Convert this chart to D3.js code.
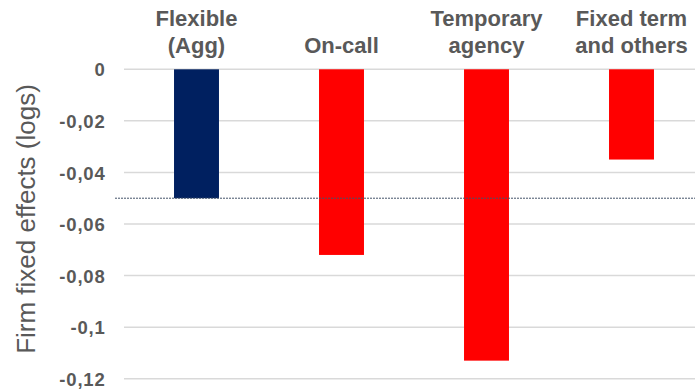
<!DOCTYPE html>
<html>
<head>
<meta charset="utf-8">
<script src="https://cdn.jsdelivr.net/npm/d3@7"></script>
<style>
  html, body { margin: 0; padding: 0; background: #fff; }
  svg { display: block; }
</style>
</head>
<body>
<svg id="chart" width="695" height="391"></svg>
<script>
// Contract categories (header lines) and their estimated firm fixed effects
const categories = ["Flexible (Agg)", "On-call", "Temporary agency", "Fixed term and others"];
const categoryLines = [["Flexible", "(Agg)"], ["On-call"], ["Temporary", "agency"], ["Fixed term", "and others"]];
const values = [-0.05, -0.072, -0.113, -0.035];
const barColors = ["#002060", "#FF0000", "#FF0000", "#FF0000"];
const yTicks = [0, -0.02, -0.04, -0.06, -0.08, -0.1, -0.12];
const referenceValue = -0.05;

const svg = d3.select("#chart");
const font = "'Liberation Sans', Arial, sans-serif";
const grey = "#595959";

const y = d3.scaleLinear().domain([0, -0.12]).range([69.3, 378.7]);
const x = d3.scaleBand().domain(categories).range([124, 704])
  .paddingInner(0.69).paddingOuter(0.345);

// Decimal comma, plain hyphen for negatives
const fmt = v => (v === 0 ? "0" : String(+v.toFixed(2)).replace(".", ","));

// Gridlines
svg.append("g").selectAll("line").data(yTicks).join("line")
  .attr("x1", 124).attr("x2", 695)
  .attr("y1", d => y(d)).attr("y2", d => y(d))
  .attr("stroke", "#d9d9d9").attr("stroke-width", 1.5);

// Y axis tick labels
const yAxis = d3.axisLeft(y).tickValues(yTicks).tickFormat(fmt).tickSize(0).tickPadding(0);
const gy = svg.append("g").attr("transform", "translate(105.5,0)").call(yAxis);
gy.select(".domain").remove();
gy.selectAll("text")
  .attr("fill", grey).attr("font-family", font).attr("font-size", 18.5)
  .attr("font-weight", "bold").attr("letter-spacing", 0.8).attr("dy", "0.36em");

// Bars
svg.append("g").selectAll("rect").data(categories).join("rect")
  .attr("x", d => x(d))
  .attr("width", x.bandwidth())
  .attr("y", y(0))
  .attr("height", (d, i) => y(values[i]) - y(0))
  .attr("fill", (d, i) => barColors[i]);

// Reference line
svg.append("line")
  .attr("x1", 115).attr("x2", 695)
  .attr("y1", y(referenceValue)).attr("y2", y(referenceValue))
  .attr("stroke", "#44546A").attr("stroke-width", 1)
  .attr("stroke-dasharray", "2,1");

// Category headers
const header = svg.append("g").selectAll("text").data(categories).join("text")
  .attr("text-anchor", "middle")
  .attr("fill", grey).attr("font-family", font).attr("font-size", 22)
  .attr("font-weight", "bold");
header.each(function (d, i) {
  const lines = categoryLines[i];
  const cx = x(d) + x.bandwidth() / 2;
  const start = lines.length === 2 ? 26 : 52.5;
  d3.select(this).selectAll("tspan").data(lines).join("tspan")
    .attr("x", cx).attr("y", (l, j) => start + j * 26.5).text(l => l);
});

// Y axis title
svg.append("text")
  .attr("transform", "translate(35,219) rotate(-90)")
  .attr("text-anchor", "middle")
  .attr("fill", grey).attr("font-family", font).attr("font-size", 26)
  .text("Firm fixed effects (logs)");
</script>
</body>
</html>
